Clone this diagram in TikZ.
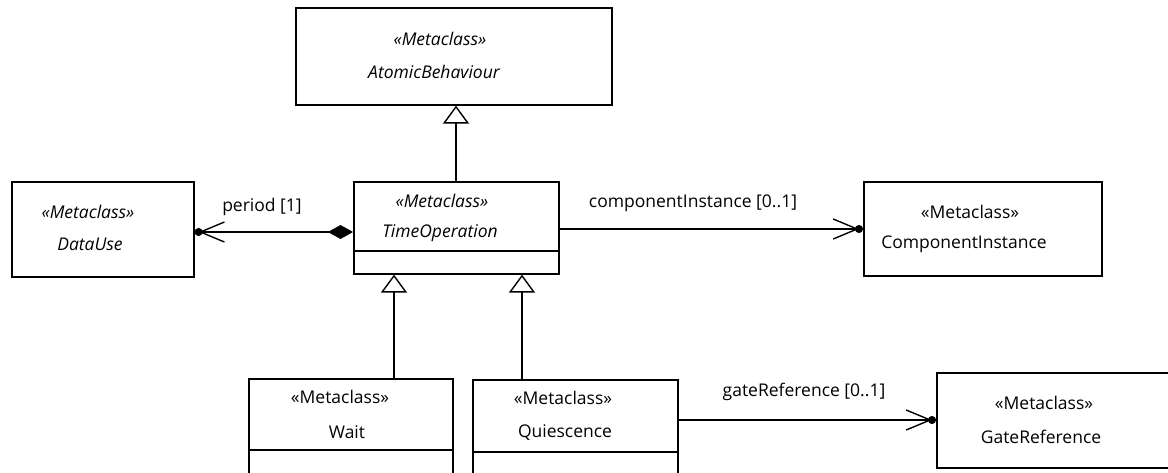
\documentclass[tikz,border=0pt]{standalone}
\usepackage{fontspec}
\setmainfont{Open Sans}
\usetikzlibrary{arrows.meta}
\begin{document}
\begin{tikzpicture}[x=1pt,y=-1pt,
  cls/.style={draw, line width=1.6pt, fill=white, anchor=north west, inner sep=0pt},
  txt/.style={font=\fontsize{17.5}{20}\selectfont, inner sep=0pt, anchor=center},
  itxt/.style={inner sep=0pt, anchor=center, font=\fontsize{17.5}{20}\selectfont\itshape},
  conn/.style={line width=1.4pt},
  assoc/.style={conn, -{Straight Barb[length=24pt,width=20pt,sep=-4pt]Circle[length=8pt]}},
  comp/.style={conn, {Diamond[length=25pt,width=14pt]}-{Straight Barb[length=24pt,width=20pt,sep=-4pt]Circle[length=8pt]}},
  gen/.style={conn, -{Triangle[open,length=18pt,width=26pt,fill=white]}},
  cmp/.style={line width=1.3pt}
]
\useasboundingbox (0,0) rectangle (1168,472);

% class boxes
\node[cls, minimum width=316pt, minimum height=97pt] (ab) at (295,7) {};
\node[cls, minimum width=182pt, minimum height=95pt] (du) at (11,181) {};
\node[cls, minimum width=205pt, minimum height=92pt] (to) at (353,181) {};
\node[cls, minimum width=238pt, minimum height=94pt] (ci) at (863,181) {};
\node[cls, minimum width=204pt, minimum height=120pt] (wt) at (248,378) {};
\node[cls, minimum width=205pt, minimum height=120pt] (qu) at (472,379) {};
\node[cls, minimum width=250pt, minimum height=95pt] (gr) at (936,372) {};

% compartments
\draw[cmp] (to.west |- 0,251) -- (to.east |- 0,251);
\draw[cmp] (wt.west |- 0,450) -- (wt.east |- 0,450);
\draw[cmp] (qu.west |- 0,452) -- (qu.east |- 0,452);

% texts
\node[itxt] (abs) at (440,39) {«Metaclass»};
\node[itxt] (abn) at (434,72) {AtomicBehaviour};
\node[itxt] (dus) at (88,212) {«Metaclass»};
\node[itxt] (dun) at (90,244) {DataUse};
\node[itxt] (tos) at (442,201) {«Metaclass»};
\node[itxt] (ton) at (440,233) {TimeOperation};
\node[txt] (cis) at (970,212) {«Metaclass»};
\node[txt] (cin) at (964,244) {ComponentInstance};
\node[txt] (wts) at (340,397) {«Metaclass»};
\node[txt] (wtn) at (347,432) {Wait};
\node[txt] (qus) at (563,398) {«Metaclass»};
\node[txt] (qun) at (565,433) {Quiescence};
\node[txt] (grs) at (1044,403) {«Metaclass»};
\node[txt] (grn) at (1041,437) {GateReference};

% generalizations
\draw[gen] (to.north -| 456,0) -- (ab.south -| 456,0);
\draw[gen] (wt.north -| 394,0) -- (to.south -| 394,0);
\draw[gen] (qu.north -| 522,0) -- (to.south -| 522,0);

% associations
\draw[comp] (to.west |- 0,232) -- (du.east |- 0,232);
\draw[assoc] (to.east |- 0,229) -- (ci.west |- 0,229);
\draw[assoc] (qu.east |- 0,420) -- (gr.west |- 0,420);

% labels
\node[txt] (l1) at (262,207) {period [1]};
\node[txt] (l2) at (693,203) {componentInstance [0..1]};
\node[txt] (l3) at (804,392) {gateReference [0..1]};
\end{tikzpicture}
\end{document}
